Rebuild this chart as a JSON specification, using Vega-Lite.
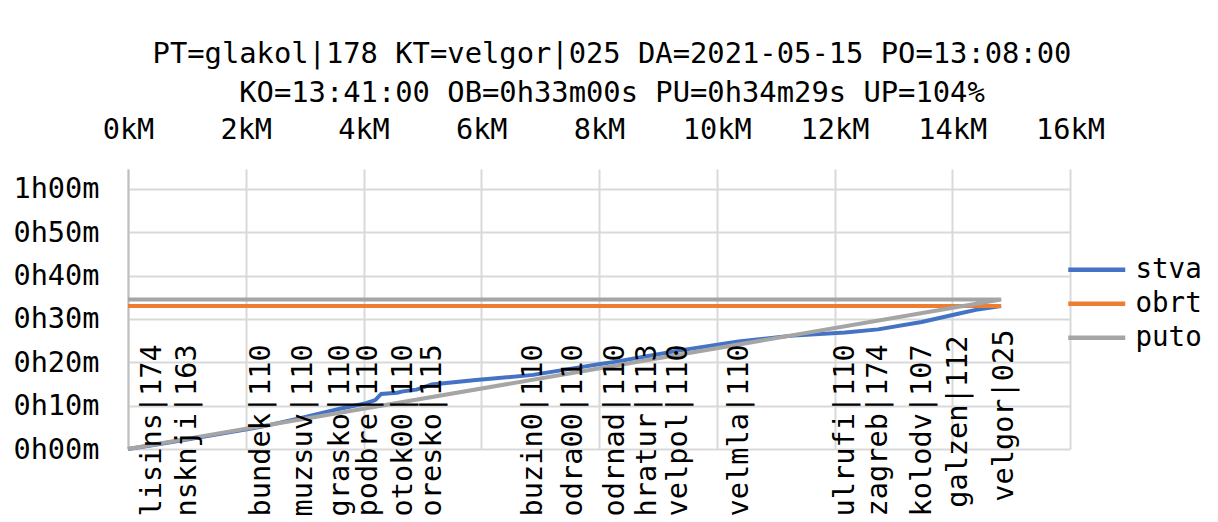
{
  "$schema": "https://vega.github.io/schema/vega-lite/v6.json",
  "width": 942,
  "height": 280,
  "autosize": {"type": "none"},
  "padding": {"left": 128, "top": 169, "right": 148, "bottom": 73},
  "background": "white",
  "title": {
    "text": ["PT=glakol|178 KT=velgor|025 DA=2021-05-15 PO=13:08:00", "KO=13:41:00 OB=0h33m00s PU=0h34m29s UP=104%"],
    "font": "DejaVu Sans Mono",
    "fontSize": 28.8,
    "fontWeight": "normal",
    "color": "#000000",
    "lineHeight": 39,
    "anchor": "middle",
    "dx": 13,
    "offset": 7
  },
  "datasets": {
    "lines": [
      {"series": "stva", "i": 0, "km": 0, "min": 0},
      {"series": "stva", "i": 1, "km": 0.41, "min": 0.85},
      {"series": "stva", "i": 2, "km": 1.0, "min": 2.2},
      {"series": "stva", "i": 3, "km": 2.26, "min": 5.1},
      {"series": "stva", "i": 4, "km": 2.98, "min": 7.3},
      {"series": "stva", "i": 5, "km": 3.6, "min": 9.3},
      {"series": "stva", "i": 6, "km": 4.03, "min": 10.5},
      {"series": "stva", "i": 7, "km": 4.2, "min": 11.3},
      {"series": "stva", "i": 8, "km": 4.3, "min": 12.7},
      {"series": "stva", "i": 9, "km": 4.57, "min": 13.0},
      {"series": "stva", "i": 10, "km": 4.67, "min": 13.3},
      {"series": "stva", "i": 11, "km": 4.9, "min": 13.7},
      {"series": "stva", "i": 12, "km": 5.16, "min": 14.9},
      {"series": "stva", "i": 13, "km": 5.91, "min": 15.9},
      {"series": "stva", "i": 14, "km": 6.88, "min": 17.1},
      {"series": "stva", "i": 15, "km": 7.56, "min": 18.6},
      {"series": "stva", "i": 16, "km": 8.02, "min": 19.6},
      {"series": "stva", "i": 17, "km": 8.27, "min": 20.1},
      {"series": "stva", "i": 18, "km": 8.81, "min": 21.4},
      {"series": "stva", "i": 19, "km": 9.35, "min": 22.7},
      {"series": "stva", "i": 20, "km": 10.37, "min": 24.8},
      {"series": "stva", "i": 21, "km": 11.24, "min": 26.1},
      {"series": "stva", "i": 22, "km": 12.18, "min": 26.9},
      {"series": "stva", "i": 23, "km": 12.74, "min": 27.6},
      {"series": "stva", "i": 24, "km": 13.48, "min": 29.3},
      {"series": "stva", "i": 25, "km": 14.1, "min": 31.2},
      {"series": "stva", "i": 26, "km": 14.4, "min": 32.1},
      {"series": "stva", "i": 27, "km": 14.83, "min": 33.0},
      {"series": "obrt", "i": 0, "km": 0, "min": 33.0},
      {"series": "obrt", "i": 1, "km": 14.83, "min": 33.0},
      {"series": "puto", "i": 0, "km": 0, "min": 0},
      {"series": "puto", "i": 1, "km": 14.83, "min": 34.48},
      {"series": "puto", "i": 2, "km": 0, "min": 34.48}
    ],
    "stations": [
      {"name": "lisins|174", "km": 0.41},
      {"name": "nsknji|163", "km": 1.0},
      {"name": "bundek|110", "km": 2.26},
      {"name": "muzsuv|110", "km": 2.98},
      {"name": "grasko|110", "km": 3.6},
      {"name": "podbre|110", "km": 4.08},
      {"name": "otok00|110", "km": 4.67},
      {"name": "oresko|115", "km": 5.16},
      {"name": "buzin0|110", "km": 6.88},
      {"name": "odra00|110", "km": 7.56},
      {"name": "odrnad|110", "km": 8.27},
      {"name": "hratur|113", "km": 8.81},
      {"name": "velpol|110", "km": 9.35},
      {"name": "velmla|110", "km": 10.37},
      {"name": "ulrufi|110", "km": 12.18},
      {"name": "zagreb|174", "km": 12.74},
      {"name": "kolodv|107", "km": 13.48},
      {"name": "galzen|112", "km": 14.1},
      {"name": "velgor|025", "km": 14.88}
    ]
  },
  "config": {
    "view": {"stroke": null},
    "font": "DejaVu Sans Mono",
    "axis": {
      "labelFont": "DejaVu Sans Mono",
      "labelFontSize": 28.6,
      "labelColor": "#000000",
      "gridColor": "#d9d9d9",
      "gridWidth": 2,
      "ticks": false,
      "title": null,
      "labelFlush": false,
      "labelOverlap": false,
      "labelBound": false
    }
  },
  "layer": [
    {
      "data": {"name": "lines"},
      "mark": {"type": "line", "strokeWidth": 4, "clip": false},
      "encoding": {
        "x": {
          "field": "km",
          "type": "quantitative",
          "scale": {"domain": [0, 16], "nice": false},
          "axis": {
            "orient": "top",
            "values": [0, 2, 4, 6, 8, 10, 12, 14, 16],
            "labelExpr": "datum.value + 'kM'",
            "labelBaseline": "alphabetic",
            "labelPadding": 31,
            "domain": false,
            "grid": true
          }
        },
        "y": {
          "field": "min",
          "type": "quantitative",
          "scale": {"domain": [0, 64.6], "nice": false},
          "axis": {
            "values": [0, 10, 20, 30, 40, 50, 60],
            "labelExpr": "floor(datum.value / 60) + 'h' + (datum.value % 60 < 10 ? '0' : '') + (datum.value % 60) + 'm'",
            "labelPadding": 29,
            "domain": true,
            "domainColor": "#bfbfbf",
            "domainWidth": 2,
            "grid": true
          }
        },
        "color": {
          "field": "series",
          "type": "nominal",
          "scale": {"domain": ["stva", "obrt", "puto"], "range": ["#4472C4", "#ED7D31", "#A5A5A5"]},
          "legend": {
            "title": null,
            "orient": "none",
            "legendX": 955,
            "legendY": 87,
            "symbolType": "M-3,0H3",
            "symbolSize": 361,
            "symbolStrokeWidth": 4.5,
            "labelFont": "DejaVu Sans Mono",
            "labelFontSize": 27.5,
            "labelColor": "#000000",
            "labelOffset": 25,
            "rowPadding": 5,
            "padding": 0
          }
        },
        "order": {"field": "i", "type": "quantitative"}
      }
    },
    {
      "mark": {"type": "rule", "color": "#bfbfbf", "strokeWidth": 2},
      "encoding": {"y": {"datum": 0}}
    },
    {
      "data": {"name": "stations"},
      "transform": [{"filter": "datum.name !== 'galzen|112' && datum.name !== 'velgor|025'"}],
      "mark": {"type": "text", "angle": 270, "align": "center", "baseline": "middle", "font": "DejaVu Sans Mono", "fontSize": 28.6, "color": "#000000", "clip": false},
      "encoding": {
        "x": {"field": "km", "type": "quantitative"},
        "y": {"datum": 4.3},
        "text": {"field": "name"}
      }
    },
    {
      "data": {"name": "stations"},
      "transform": [{"filter": "datum.name === 'galzen|112'"}],
      "mark": {"type": "text", "angle": 270, "align": "center", "baseline": "middle", "font": "DejaVu Sans Mono", "fontSize": 28.6, "color": "#000000", "clip": false},
      "encoding": {
        "x": {"field": "km", "type": "quantitative"},
        "y": {"datum": 6.3},
        "text": {"field": "name"}
      }
    },
    {
      "data": {"name": "stations"},
      "transform": [{"filter": "datum.name === 'velgor|025'"}],
      "mark": {"type": "text", "angle": 270, "align": "center", "baseline": "middle", "font": "DejaVu Sans Mono", "fontSize": 28.6, "color": "#000000", "clip": false},
      "encoding": {
        "x": {"field": "km", "type": "quantitative"},
        "y": {"datum": 7.7},
        "text": {"field": "name"}
      }
    }
  ]
}
